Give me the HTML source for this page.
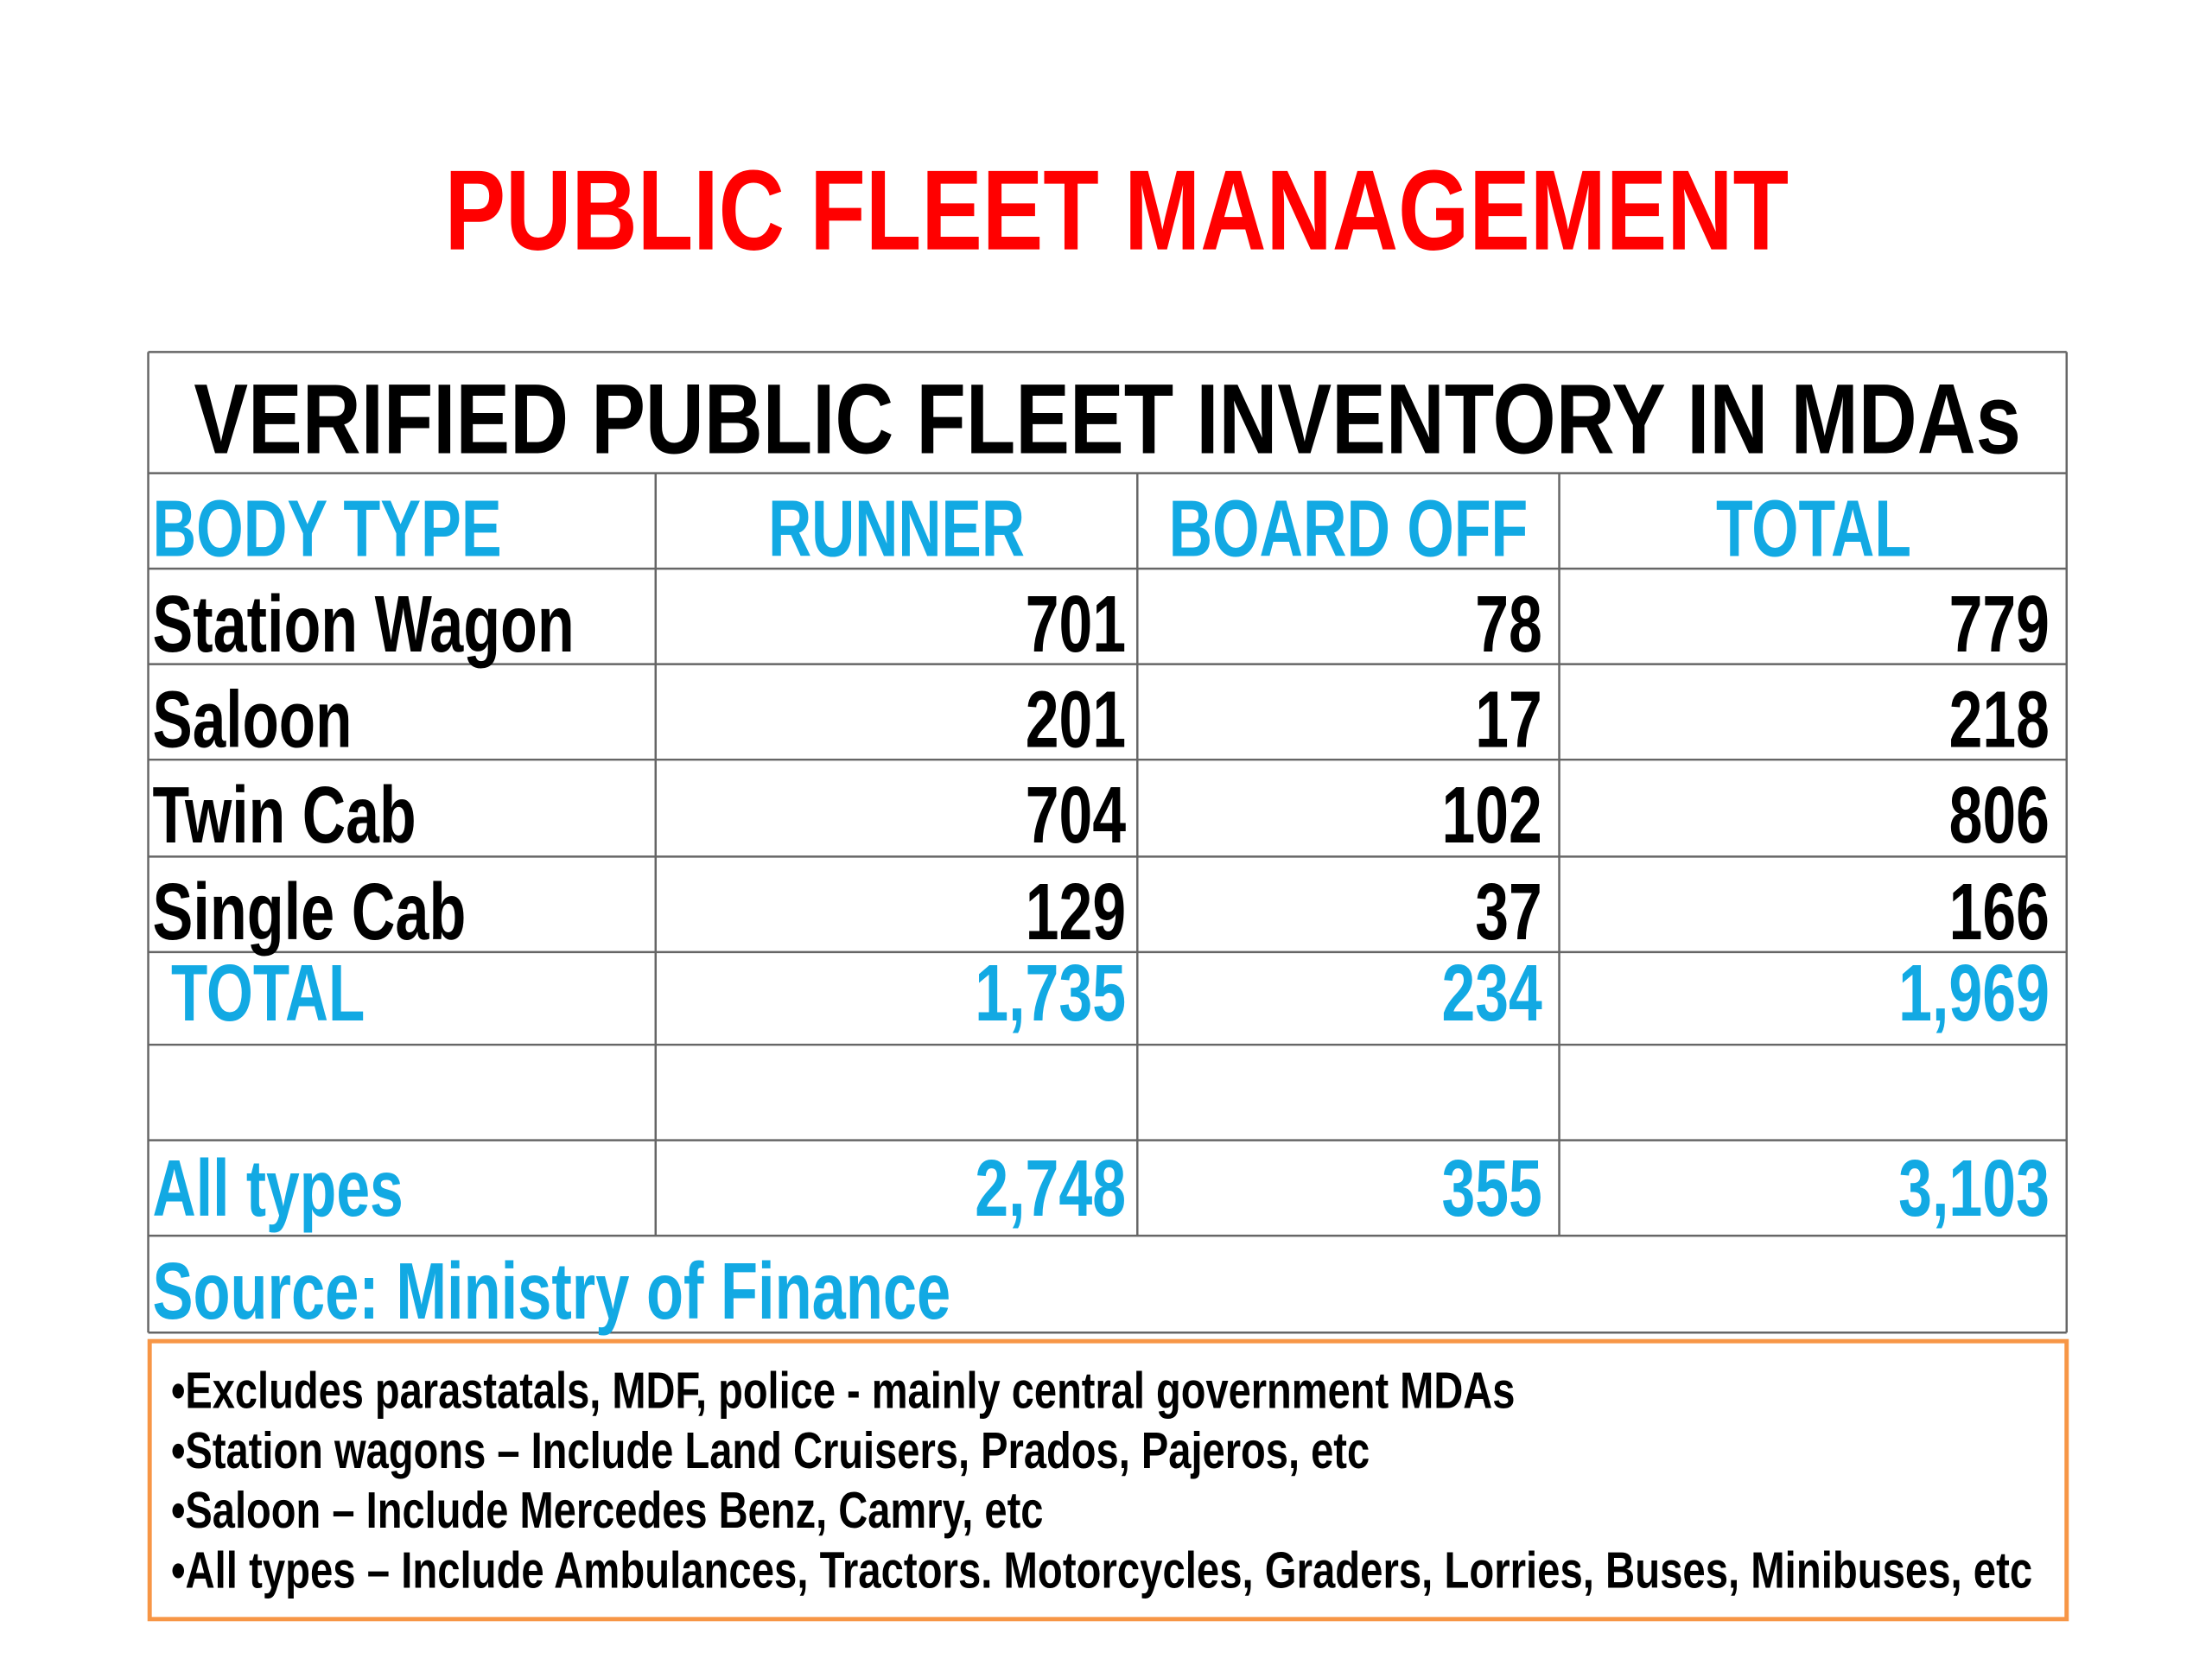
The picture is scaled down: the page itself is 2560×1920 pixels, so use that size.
<!DOCTYPE html>
<html><head><meta charset="utf-8"><style>
html,body{margin:0;padding:0;background:#fff;width:2560px;height:1920px;overflow:hidden}
svg text{font-family:"Liberation Sans",sans-serif;font-weight:bold}
</style></head><body>
<svg id="s" width="2560" height="1920" viewBox="0 0 1552 1164" xmlns="http://www.w3.org/2000/svg">
<text x="312" y="175" font-size="80" fill="#ff0000" textLength="943" lengthAdjust="spacingAndGlyphs">PUBLIC FLEET MANAGEMENT</text>
<g id="tbl"></g>
<rect x="105" y="941" width="1345" height="195" fill="none" stroke="#f79646" stroke-width="3"/>
<g id="notes"></g>
</svg>
<script>
const labels=["Station Wagon","Saloon","Twin Cab","Single Cab","TOTAL","","All types"];
const runner=["701","201","704","129","1,735","","2,748"];
const boardOff=["78","17","102","37","234","","355"];
const total=["779","218","806","166","1,969","","3,103"];
const labelWidths=[296,140,185,220,136,0,176];
const headers=["BODY TYPE","RUNNER","BOARD OFF","TOTAL"];
const notes=["•Excludes parastatals, MDF, police - mainly central government MDAs","•Station wagons – Include Land Cruisers, Prados, Pajeros, etc","•Saloon – Include Mercedes Benz, Camry, etc","•All types – Include Ambulances, Tractors. Motorcycles,  Graders, Lorries, Buses, Minibuses, etc"];
const noteWidths=[943,841,612,1306];
const NS="http://www.w3.org/2000/svg";
const tbl=document.getElementById('tbl');
const BLUE="#12a9e3";
function mk(tag,attrs,parent,txt){const e=document.createElementNS(NS,tag);for(const k in attrs)e.setAttribute(k,attrs[k]);if(txt!==undefined)e.textContent=txt;parent.appendChild(e);return e;}
const L=104,R=1450,cols=[104,460,798,1094,1450];
const rowsY=[247,332,399,466,533,601,668,733,800,867,935];
// horizontal lines
rowsY.forEach((y,i)=>{const ln=mk('line',{x1:L,x2:R,y1:y,y2:y,stroke:'#666','stroke-width':1.5},tbl);

});
[L,R].forEach(x=>{const ln=mk('line',{x1:x,x2:x,y1:247,y2:935,stroke:'#666','stroke-width':1.5},tbl);

});
[1,2,3].forEach(c=>{const ln=mk('line',{x1:cols[c],x2:cols[c],y1:332,y2:867,stroke:'#666','stroke-width':1.5},tbl);

});
let t=mk('text',{x:136,y:318,'font-size':70,fill:'#000',textLength:1282,lengthAdjust:'spacingAndGlyphs'},tbl,"VERIFIED PUBLIC FLEET INVENTORY IN MDAs");


const hx=[107,539,820,1204],hw=[245,180,252,137];
headers.forEach((h,i)=>{const e=mk('text',{x:hx[i],y:390,'font-size':56,fill:BLUE,textLength:hw[i],lengthAdjust:'spacingAndGlyphs'},tbl,h);

});
function numW(s){let w=0;for(const ch of s)w+=(ch===',')?12:23.5;return w;}
const rightX=[790,1082,1438];
labels.forEach((lab,i)=>{
 if(lab==="")return;
 const y=rowsY[i+2]+58-(i>=4?10:0)-(i===6?-5:0);
 const blue=(i>=4);
 const lx=(lab==="TOTAL")?120:107;
 const e=mk('text',{x:lx,y:y,'font-size':56,fill:blue?BLUE:'#000',textLength:labelWidths[i],lengthAdjust:'spacingAndGlyphs'},tbl,lab);
 
 
 [runner,boardOff,total].forEach((arr,c)=>{const v=arr[i];
  const n=mk('text',{x:rightX[c]-numW(v),y:y,'font-size':56,fill:blue?BLUE:'#000',textLength:numW(v),lengthAdjust:'spacingAndGlyphs'},tbl,v);
  
  });
});
t=mk('text',{x:107,y:925,'font-size':56,fill:BLUE,textLength:560,lengthAdjust:'spacingAndGlyphs'},tbl,"Source: Ministry of Finance");


const ng=document.getElementById('notes');
notes.forEach((n,i)=>{const e=mk('text',{x:120,y:988+i*42,'font-size':36,fill:'#000',textLength:noteWidths[i],lengthAdjust:'spacingAndGlyphs'},ng,n);

});
</script>
</body></html>
